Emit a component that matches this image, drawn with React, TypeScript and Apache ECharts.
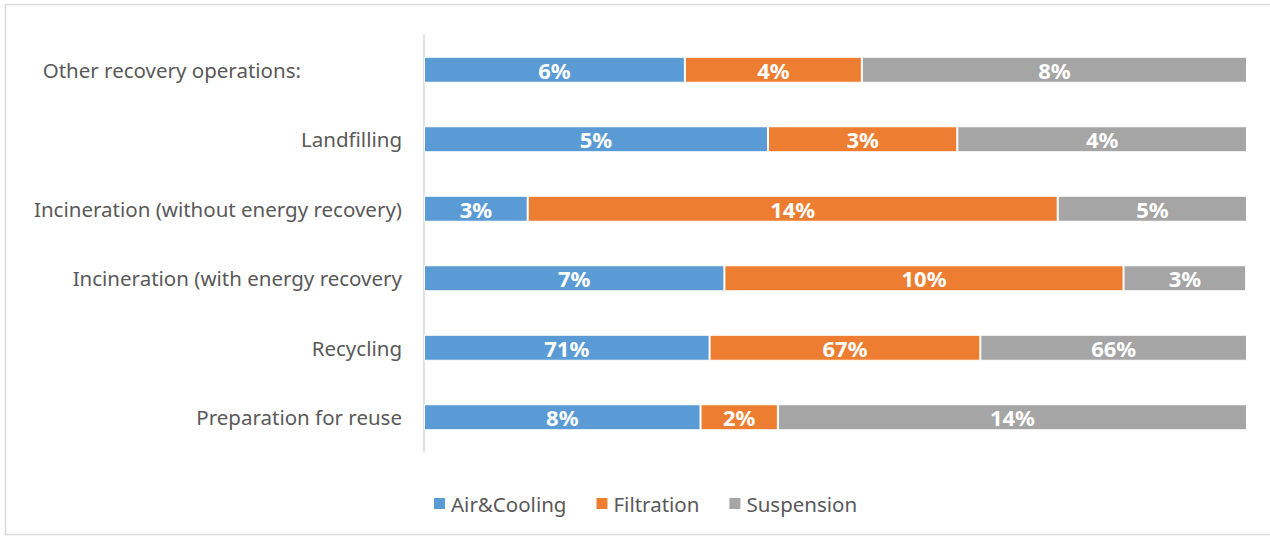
import React, { useEffect, useRef } from "react";
import * as echarts from "echarts";

// Categories bottom-to-top (ECharts category order)
const categories = [
  "Preparation for reuse",
  "Recycling",
  "Incineration (with energy recovery",
  "Incineration (without energy recovery)",
  "Landfilling",
  "Other recovery operations:",
];

const seriesNames = ["Air&Cooling", "Filtration", "Suspension"];

// Displayed labels (percent)
const airLabels = [8, 71, 7, 3, 5, 6];
const filtLabels = [2, 67, 10, 14, 3, 4];
const suspLabels = [14, 66, 3, 5, 4, 8];

// Share of each row (100% stacked)
const airShare = [33.6, 34.7, 36.5, 12.6, 41.8, 31.7];
const filtShare = [9.4, 32.9, 48.5, 64.4, 23.0, 21.5];
const suspShare = [57.0, 32.4, 14.9, 23.0, 35.2, 46.8];

const colors = ["#5B9BD5", "#ED7D31", "#A5A5A5"];
const FONT = "'Noto Sans', 'Open Sans', sans-serif";

export default function App() {
  const ref = useRef<HTMLDivElement>(null);
  useEffect(() => {
    if (!ref.current) return;
    const chart = echarts.init(ref.current, undefined, { renderer: "svg" });
    const labelSets = [airLabels, filtLabels, suspLabels];
    const shares = [airShare, filtShare, suspShare];
    chart.setOption({
      animation: false,
      textStyle: { fontFamily: FONT },
      graphic: [
        {
          type: "rect",
          shape: { x: 5.5, y: 4.5, width: 1280, height: 530 },
          style: { fill: "none", stroke: "#d9d9d9", lineWidth: 1.5 },
          silent: true,
        },
      ],
      grid: { left: 424, right: 23, top: 35, bottom: 88, containLabel: false },
      legend: {
        bottom: 26,
        left: 432,
        padding: 0,
        icon: "rect",
        itemWidth: 13,
        itemHeight: 13,
        itemGap: 28,
        textStyle: { fontSize: 20.5, color: "#595959", fontFamily: FONT },
        data: seriesNames,
      },
      xAxis: {
        type: "value",
        min: 0,
        max: 100,
        show: false,
      },
      yAxis: {
        type: "category",
        data: categories,
        axisLine: { show: true, lineStyle: { color: "#d9d9d9", width: 1.5 } },
        axisTick: { show: false },
        axisLabel: {
          fontSize: 20.5,
          color: "#595959",
          margin: 22,
          fontFamily: FONT,
          formatter: (v: string, i: number) => (i === 5 ? "{far|" + v + "}" : v),
          rich: {
            far: { fontSize: 20.5, color: "#595959", fontFamily: FONT, padding: [0, 101, 0, 0] },
          },
        },
        splitLine: { show: false },
      },
      series: seriesNames.map((name, i) => ({
        name,
        type: "bar",
        stack: "total",
        barWidth: 26,
        itemStyle: { color: colors[i], borderColor: "#ffffff", borderWidth: 1 },
        label: {
          show: true,
          position: "inside",
          color: "#ffffff",
          fontSize: 22,
          fontWeight: "bold",
          fontFamily: FONT,
          formatter: (p: any) => labelSets[i][p.dataIndex] + "%",
        },
        data: shares[i],
      })),
    });
    return () => chart.dispose();
  }, []);
  return (
    <div
      ref={ref}
      style={{ position: "absolute", left: 0, top: 0, width: 1270, height: 540, background: "#fff" }}
    />
  );
}
